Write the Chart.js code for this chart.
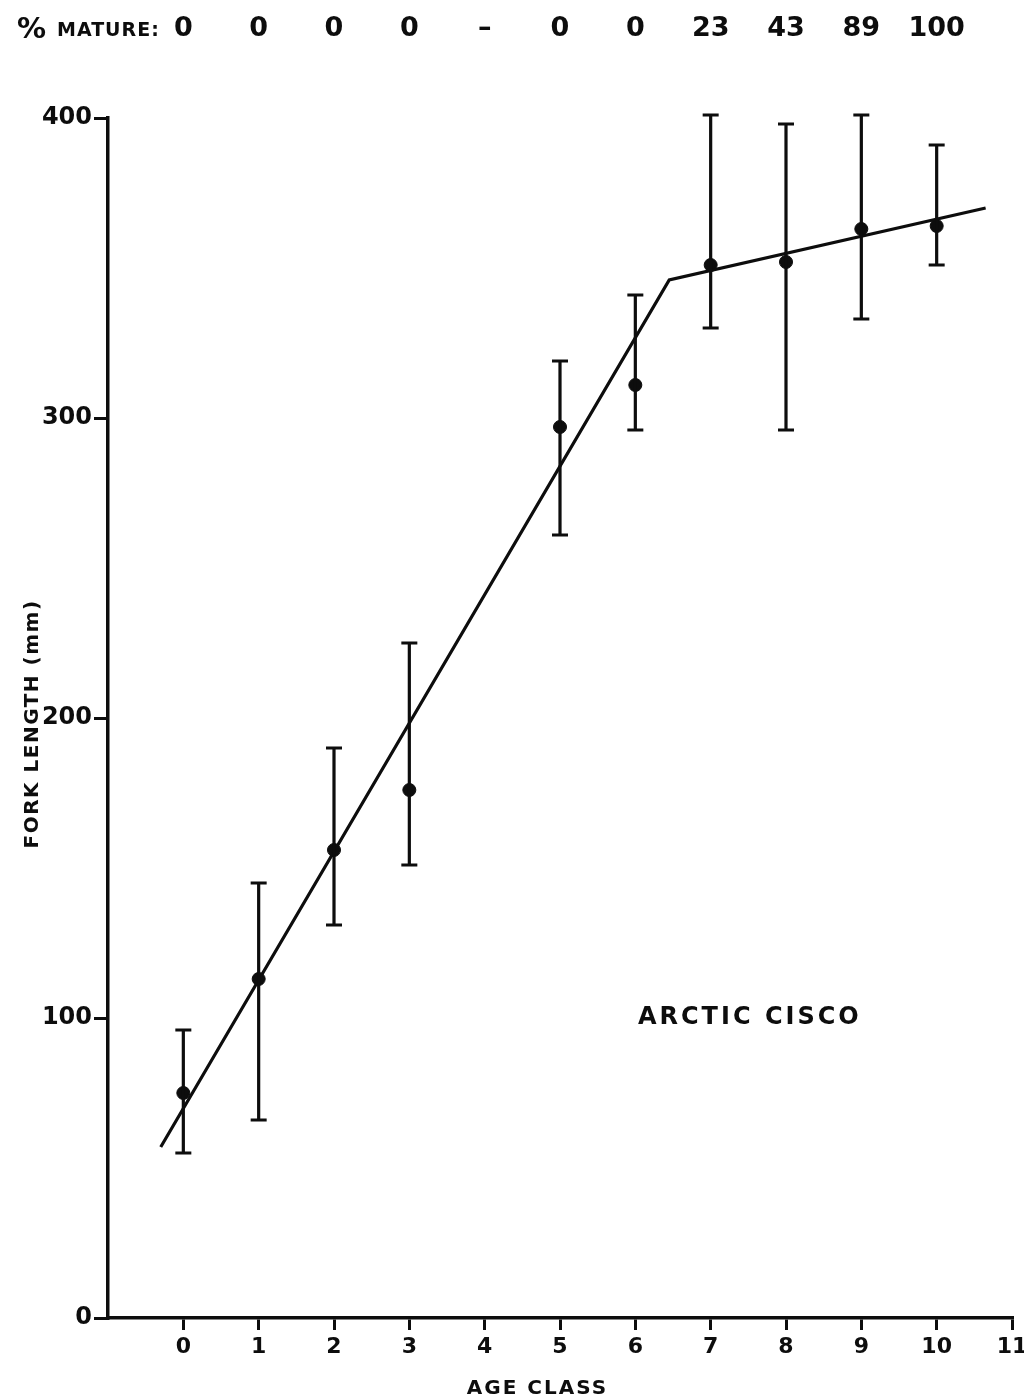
<!DOCTYPE html>
<html>
<head>
<meta charset="utf-8">
<script src="https://cdn.jsdelivr.net/npm/chart.js@4.4.1/dist/chart.umd.min.js"></script>
<style>
  html, body { margin: 0; padding: 0; background: #fff; }
  #wrap { width: 1024px; height: 1400px; }
</style>
</head>
<body>
<div id="wrap"><canvas id="growth"></canvas></div>
<script>
// age classes sampled and fork length stats (mm)
const ageClasses = [0, 1, 2, 3, 5, 6, 7, 8, 9, 10];
const meanLength = [75, 113, 156, 176, 297, 311, 351, 352, 363, 364];
const upperLength = [96, 145, 190, 225, 319, 341, 401, 398, 401, 391];
const lowerLength = [55, 66, 131, 151, 261, 296, 330, 296, 333, 351];

// broken-stick growth line
const fitAges = [-0.3, 6.45, 10.65];
const fitLength = [57, 346, 370];

// maturity row across the top
const maturityAges = [0, 1, 2, 3, 4, 5, 6, 7, 8, 9, 10];
const percentMature = ['0', '0', '0', '0', '–', '0', '0', '23', '43', '89', '100'];

const xTickValues = [0, 1, 2, 3, 4, 5, 6, 7, 8, 9, 10, 11];
const yTickValues = [0, 100, 200, 300, 400];

const FONT = '"DejaVu Sans", sans-serif';
const INK = '#0d0d0d';

const errorBars = {
  id: 'errorBars',
  afterDatasetsDraw(chart) {
    const { ctx, scales: { x, y } } = chart;
    ctx.save();
    ctx.strokeStyle = INK;
    ctx.lineWidth = 3.2;
    ageClasses.forEach((age, i) => {
      const px = x.getPixelForValue(age);
      const top = y.getPixelForValue(upperLength[i]);
      const bot = y.getPixelForValue(lowerLength[i]);
      ctx.beginPath();
      ctx.moveTo(px, top); ctx.lineTo(px, bot);
      ctx.moveTo(px - 8, top); ctx.lineTo(px + 8, top);
      ctx.moveTo(px - 8, bot); ctx.lineTo(px + 8, bot);
      ctx.stroke();
    });
    ctx.restore();
  }
};

const labels = {
  id: 'labels',
  afterDraw(chart) {
    const { ctx, scales: { x, y } } = chart;
    ctx.save();
    ctx.fillStyle = INK;
    ctx.textBaseline = 'alphabetic';

    // % MATURE row
    ctx.textAlign = 'left';
    ctx.font = `bold 29px ${FONT}`;
    ctx.fillText('%', 17, 38);
    ctx.font = `bold 19px ${FONT}`;
    ctx.letterSpacing = '1px';
    ctx.fillText('MATURE:', 57, 36);
    ctx.letterSpacing = '0px';
    ctx.textAlign = 'center';
    ctx.font = `bold 27px ${FONT}`;
    maturityAges.forEach((age, i) => {
      ctx.fillText(percentMature[i], x.getPixelForValue(age), 36);
    });

    // species name
    ctx.font = `bold 24px ${FONT}`;
    ctx.letterSpacing = '3px';
    ctx.fillText('ARCTIC CISCO', x.getPixelForValue(7.52), y.getPixelForValue(98));

    // axis titles
    ctx.font = `bold 20px ${FONT}`;
    ctx.letterSpacing = '2px';
    ctx.fillText('AGE CLASS', x.getPixelForValue(4.7), 1394);

    ctx.translate(38, y.getPixelForValue(198));
    ctx.rotate(-Math.PI / 2);
    ctx.letterSpacing = '1.5px';
    ctx.fillText('FORK LENGTH (mm)', 0, 0);
    ctx.restore();
  }
};

new Chart(document.getElementById('growth'), {
  type: 'scatter',
  data: {
    datasets: [
      {
        data: fitAges.map((a, i) => ({ x: a, y: fitLength[i] })),
        showLine: true,
        borderColor: INK,
        borderWidth: 3.2,
        pointRadius: 0,
        tension: 0
      },
      {
        data: ageClasses.map((a, i) => ({ x: a, y: meanLength[i] })),
        backgroundColor: INK,
        borderColor: INK,
        pointRadius: 6.5,
        pointHoverRadius: 6.5
      }
    ]
  },
  options: {
    responsive: true,
    maintainAspectRatio: false,
    animation: false,
    devicePixelRatio: 1,
    layout: { padding: { top: 118, right: 12, left: 0, bottom: 0 } },
    plugins: { legend: { display: false }, tooltip: { enabled: false } },
    scales: {
      x: {
        type: 'linear',
        min: -1,
        max: 11,
        afterBuildTicks: s => { s.ticks = xTickValues.map(v => ({ value: v })); },
        afterFit: s => { s.height = 82; s.paddingLeft = 0; s.paddingRight = 0; },
        grid: { drawOnChartArea: false, tickLength: 12, color: INK, lineWidth: 3 },
        border: { color: INK, width: 3.5 },
        ticks: { color: INK, padding: 4, font: { family: FONT, size: 22, weight: 'bold' } }
      },
      y: {
        min: 0,
        max: 400,
        afterBuildTicks: s => { s.ticks = yTickValues.map(v => ({ value: v })); },
        afterFit: s => { s.width = 108; },
        grid: { drawOnChartArea: false, tickLength: 14, color: INK, lineWidth: 3 },
        border: { color: INK, width: 3.5 },
        ticks: { color: INK, padding: 2, font: { family: FONT, size: 24, weight: 'bold' } }
      }
    }
  },
  plugins: [errorBars, labels]
});
</script>
</body>
</html>
